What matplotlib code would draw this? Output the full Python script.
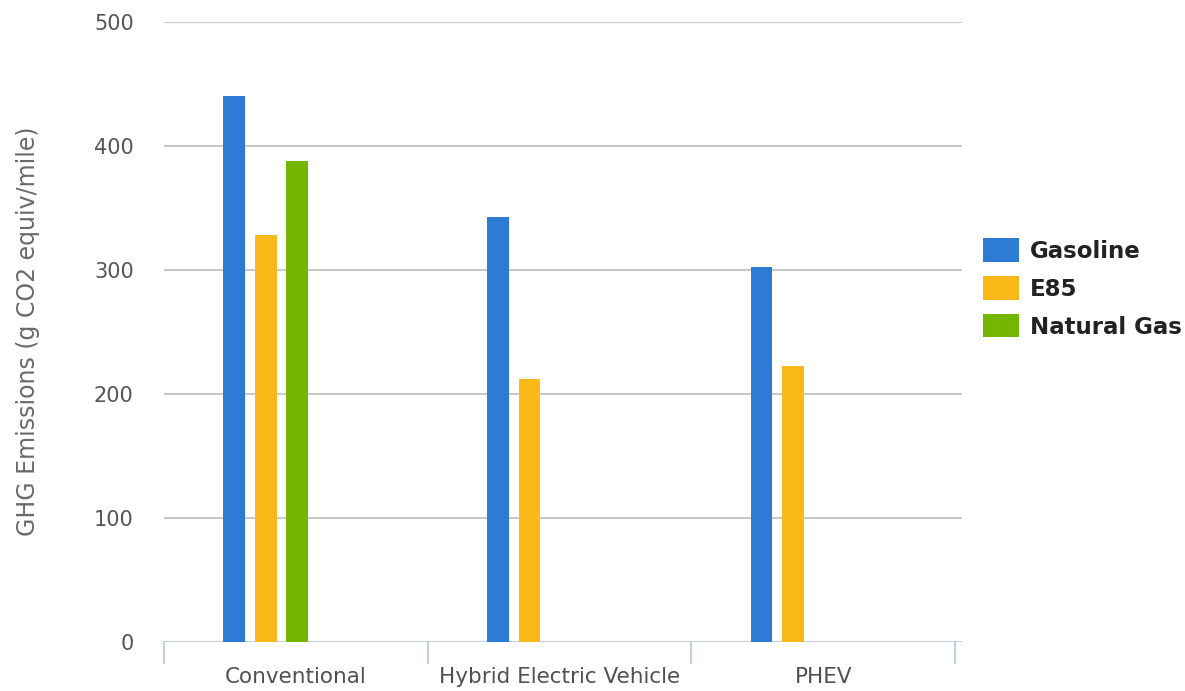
import matplotlib
matplotlib.use("Agg")
import matplotlib.pyplot as plt
from matplotlib.patches import Rectangle
import numpy as np

# Vehicle categories and emissions per fuel (g CO2 equiv/mile)
categories = ["Conventional", "Hybrid Electric Vehicle", "PHEV"]
series_names = ["Gasoline", "E85", "Natural Gas"]
gasoline = [440, 343, 302]
e85 = [328, 212, 223]
natural_gas = [388, None, None]
series_colors = ["#2e7bd6", "#f9b919", "#74b500"]
y_ticks = [0, 100, 200, 300, 400, 500]

plt.rcParams["font.family"] = ["DejaVu Sans"]

W, H = 1185, 691
fig = plt.figure(figsize=(W / 100, H / 100), dpi=100)
ax = fig.add_axes([164.3 / W, (H - 642.3) / H, (962 - 164.3) / W, (642.3 - 21.7) / H])

slot = 0.1195
bar_w = 0.083
x = np.arange(len(categories))
for i, (vals, color) in enumerate(zip([gasoline, e85, natural_gas], series_colors)):
    for xi, v in zip(x, vals):
        if v is None:
            continue
        ax.bar(xi + (i - 2) * slot + 0.005, v, width=bar_w, color=color,
               edgecolor="none", zorder=3)

ax.set_ylim(0, 500)
ax.set_xlim(-0.5, 2.5 + 7 / 263.6)
ax.set_yticks(y_ticks)
ax.set_yticklabels([str(t) for t in y_ticks], fontsize=15, color="#555555")
ax.tick_params(axis="y", length=0, pad=22)

# horizontal grid lines
for t in y_ticks[1:]:
    ax.axhline(t, color="#c8c8c8", linewidth=1.5, zorder=1)

# category axis: boundary ticks, labels centered in each category
ax.set_xticks([])
for b in np.arange(-0.5, len(categories) + 0.5, 1.0):
    ax.plot([b, b], [0, -17], color="#c0d0e0", linewidth=1.5, clip_on=False, zorder=2)
for xi, name in zip(x, categories):
    ax.text(xi, -28, name, ha="center", va="center", fontsize=15.5, color="#505050")
ax.axhline(0, color="#c0d0e0", linewidth=1.5, zorder=2)

for s in ax.spines.values():
    s.set_visible(False)

ax.set_ylabel("GHG Emissions (g CO2 equiv/mile)", fontsize=17, color="#6a6a6a",
              va="center", ha="center")
ax.yaxis.set_label_coords(28 / W, 1 - 331.5 / H, transform=fig.transFigure)

handles = [Rectangle((0, 0), 1, 1, facecolor=c, edgecolor="none") for c in series_colors]
fig.legend(handles, series_names, loc="center left", bbox_to_anchor=(982.7 / W, 1 - 288.5 / H),
           frameon=False, prop={"weight": "bold", "size": 16.5}, labelcolor="#222222",
           handlelength=1.57, handleheight=1.18, handletextpad=0.48, labelspacing=0.59,
           borderaxespad=0, borderpad=0)

fig.savefig("out.png", dpi=100)
